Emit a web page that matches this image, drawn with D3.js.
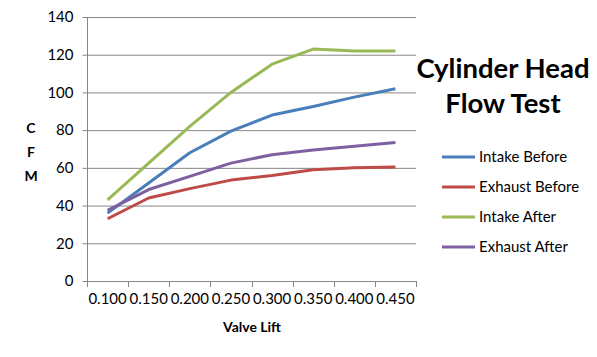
<!DOCTYPE html>
<html><head><meta charset="utf-8">
<script src="https://cdn.jsdelivr.net/npm/d3@7"></script>
<style>body{margin:0;background:#fff}svg{display:block}text{font-family:Lato,"Open Sans",sans-serif}</style>
</head><body><svg id="c" width="597" height="357"></svg>
<script>
const categories = ["0.100","0.150","0.200","0.250","0.300","0.350","0.400","0.450"];
const intakeBefore  = [36, 52, 68, 79.5, 88, 92.5, 97.5, 102];
const exhaustBefore = [33, 44, 49, 53.5, 56, 59, 60, 60.5];
const intakeAfter   = [43, 62.5, 82, 100, 115, 123, 122, 122];
const exhaustAfter  = [37.5, 48.5, 55.5, 62.5, 67, 69.5, 71.5, 73.5];
const seriesNames = ["Intake Before","Exhaust Before","Intake After","Exhaust After"];
const seriesColors = ["#4A7EBB","#BE4B48","#98B954","#7D60A0"];
const yTicks = [0,20,40,60,80,100,120,140];

const series = [intakeBefore, exhaustBefore, intakeAfter, exhaustAfter];
const svg = d3.select("#c");
const x = d3.scaleBand().domain(categories).range([87,416]);
const y = d3.scaleLinear().domain([0,140]).range([281,17]);
const gray = "#868686";

// gridlines
svg.append("g").selectAll("line").data(yTicks.filter(d=>d>0)).join("line")
  .attr("x1",87).attr("x2",416).attr("y1",d=>y(d)+0.5).attr("y2",d=>y(d)+0.5)
  .attr("stroke",gray).attr("stroke-width",1);

// y axis
const ya = svg.append("g").attr("transform","translate(87.5,0)")
  .call(d3.axisLeft(y).tickValues(yTicks).tickSize(5).tickPadding(9));
ya.select(".domain").attr("stroke",gray).attr("d","M0,17V281");
ya.selectAll(".tick line").attr("stroke",gray);
ya.selectAll("text").attr("font-size",15).attr("fill","#000");

// x axis
const xa = svg.append("g").attr("transform","translate(0,281.5)")
  .call(d3.axisBottom(x).tickSize(0).tickPadding(12));
xa.select(".domain").attr("stroke",gray).attr("d","M87,0H416");
xa.selectAll("text").attr("font-size",15).attr("fill","#000");
const bounds = categories.map(c=>x(c)).concat([x.range()[1]]);
svg.append("g").selectAll("line").data(bounds).join("line")
  .attr("x1",d=>Math.round(d)+0.5).attr("x2",d=>Math.round(d)+0.5)
  .attr("y1",281).attr("y2",287).attr("stroke",gray);

// lines
const line = d3.line().x((d,i)=>x(categories[i])+x.bandwidth()/2).y(d=>y(d));
series.forEach((s,i)=>{
  svg.append("path").datum(s).attr("d",line).attr("fill","none")
    .attr("stroke",seriesColors[i]).attr("stroke-width",3).attr("stroke-linejoin","round");
});

// axis titles
["C","F","M"].forEach((ch,i)=>{
  svg.append("text").attr("x",31).attr("y",133+i*24).attr("text-anchor","middle")
    .attr("font-size",14).attr("font-weight","bold").text(ch);
});
svg.append("text").attr("x",252).attr("y",332).attr("text-anchor","middle")
  .attr("font-size",14).attr("font-weight","bold").text("Valve Lift");

// title
svg.append("text").attr("x",503).attr("y",78).attr("text-anchor","middle")
  .attr("font-size",27.5).attr("font-weight","bold").text("Cylinder Head");
svg.append("text").attr("x",503).attr("y",113).attr("text-anchor","middle")
  .attr("font-size",27.5).attr("font-weight","bold").text("Flow Test");

// legend
const lg = svg.append("g").selectAll("g").data(seriesNames).join("g")
  .attr("transform",(d,i)=>`translate(442,${157+i*30})`);
lg.append("line").attr("x1",0).attr("x2",33).attr("stroke",(d,i)=>seriesColors[i]).attr("stroke-width",3);
lg.append("text").attr("x",37).attr("y",5).attr("font-size",15).attr("fill","#000").text(d=>d);
</script></body></html>
